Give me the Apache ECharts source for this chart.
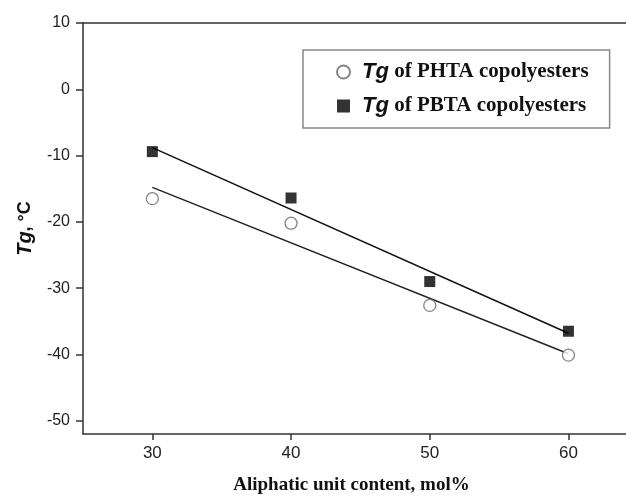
<!DOCTYPE html>
<html>
<head>
<meta charset="utf-8">
<script src="https://cdn.jsdelivr.net/npm/echarts@6/dist/echarts.min.js"></script>
<style>
  html, body { margin: 0; padding: 0; background: #fff; }
  #chart { width: 626px; height: 501px; }
</style>
</head>
<body>
<div id="chart"></div>
<script>
// aliphatic unit content, mol%
const content = [30, 40, 50, 60];
// Tg values, °C
const tgPHTA = [-16.5, -20.2, -32.6, -40.1];
const tgPBTA = [-9.4, -16.4, -29.0, -36.5];
// end points of the fitted lines (x = 30 and x = 60)
const fitX = [30, 60];
const fitPHTA = [-14.8, -39.9];
const fitPBTA = [-8.8, -36.8];
// tick labels
const xTicks = [30, 40, 50, 60];
const yTicks = [-50, -40, -30, -20, -10, 0, 10];

const pair = (xs, ys) => xs.map((x, i) => [x, ys[i]]);

const chart = echarts.init(document.getElementById('chart'));

const axisLine = { onZero: false, lineStyle: { color: '#333', width: 1.5 } };
const sans = 'Liberation Sans, Arial, sans-serif';
const serif = 'Liberation Serif, Times New Roman, serif';

// the frame runs off the right edge of the picture, so the x range ends past 60
const xMin = 25, xMax = 64.15;

chart.setOption({
  animation: false,
  backgroundColor: '#fff',
  grid: { left: 83, top: 23, right: 0, bottom: 67, show: false },
  legend: {
    orient: 'vertical',
    left: 303, top: 50,
    padding: [11, 21, 11, 33],
    itemGap: 12,
    itemWidth: 13, itemHeight: 13,
    borderColor: '#888', borderWidth: 1.5,
    backgroundColor: '#fff',
    data: [
      { name: 'PHTA', icon: 'circle' },
      { name: 'PBTA', icon: 'rect' }
    ],
    formatter: name => '{i|Tg} {t|of ' + name + ' copolyesters}',
    textStyle: {
      rich: {
        i: { fontFamily: sans, fontStyle: 'italic', fontWeight: 'bold', fontSize: 22, color: '#111', padding: [0, 2, 0, 7] },
        t: { fontFamily: serif, fontWeight: 'bold', fontSize: 21, color: '#111' }
      }
    }
  },
  xAxis: [
    {
      type: 'value',
      min: xMin, max: xMax,
      name: 'Aliphatic unit content, mol%',
      nameLocation: 'middle',
      nameGap: 42,
      nameTextStyle: {
        fontFamily: serif, fontWeight: 'bold', fontSize: 19, color: '#111',
        padding: [0, 6, 0, 0]
      },
      axisLine: axisLine,
      axisTick: { show: true, length: 6, lineStyle: { color: '#333', width: 1.5 }, customValues: xTicks },
      axisLabel: { margin: 11, customValues: xTicks, color: '#222', fontSize: 17, fontFamily: sans },
      splitLine: { show: false }
    },
    {
      // top edge of the frame
      type: 'value', position: 'top',
      min: xMin, max: xMax,
      axisLine: axisLine,
      axisTick: { show: false }, axisLabel: { show: false }, splitLine: { show: false }
    }
  ],
  yAxis: {
    type: 'value',
    min: -52, max: 10,
    axisLine: axisLine,
    axisTick: { show: true, length: 7, lineStyle: { color: '#333', width: 1.5 }, customValues: yTicks },
    axisLabel: { margin: 13, customValues: yTicks, color: '#222', fontSize: 16, fontFamily: sans },
    splitLine: { show: false },
    name: '{i|Tg}{t|, °C}',
    nameLocation: 'middle',
    nameGap: 48,
    nameTextStyle: {
      rich: {
        i: { fontFamily: sans, fontStyle: 'italic', fontWeight: 'bold', fontSize: 20, color: '#111' },
        t: { fontFamily: sans, fontWeight: 'bold', fontSize: 18, color: '#111' }
      }
    }
  },
  series: [
    {
      name: 'PHTA-fit', type: 'line', data: pair(fitX, fitPHTA),
      symbol: 'none', lineStyle: { color: '#222', width: 1.5 }, z: 2
    },
    {
      name: 'PBTA-fit', type: 'line', data: pair(fitX, fitPBTA),
      symbol: 'none', lineStyle: { color: '#111', width: 1.5 }, z: 2
    },
    {
      name: 'PHTA', type: 'scatter', data: pair(content, tgPHTA),
      symbol: 'circle', symbolSize: 12,
      itemStyle: { color: '#fff', borderColor: '#666', borderWidth: 1.3 }, z: 3
    },
    {
      name: 'PBTA', type: 'scatter', data: pair(content, tgPBTA),
      symbol: 'rect', symbolSize: 11,
      itemStyle: { color: '#000', borderColor: '#000', borderWidth: 0 }, z: 3
    }
  ]
});
</script>
</body>
</html>
